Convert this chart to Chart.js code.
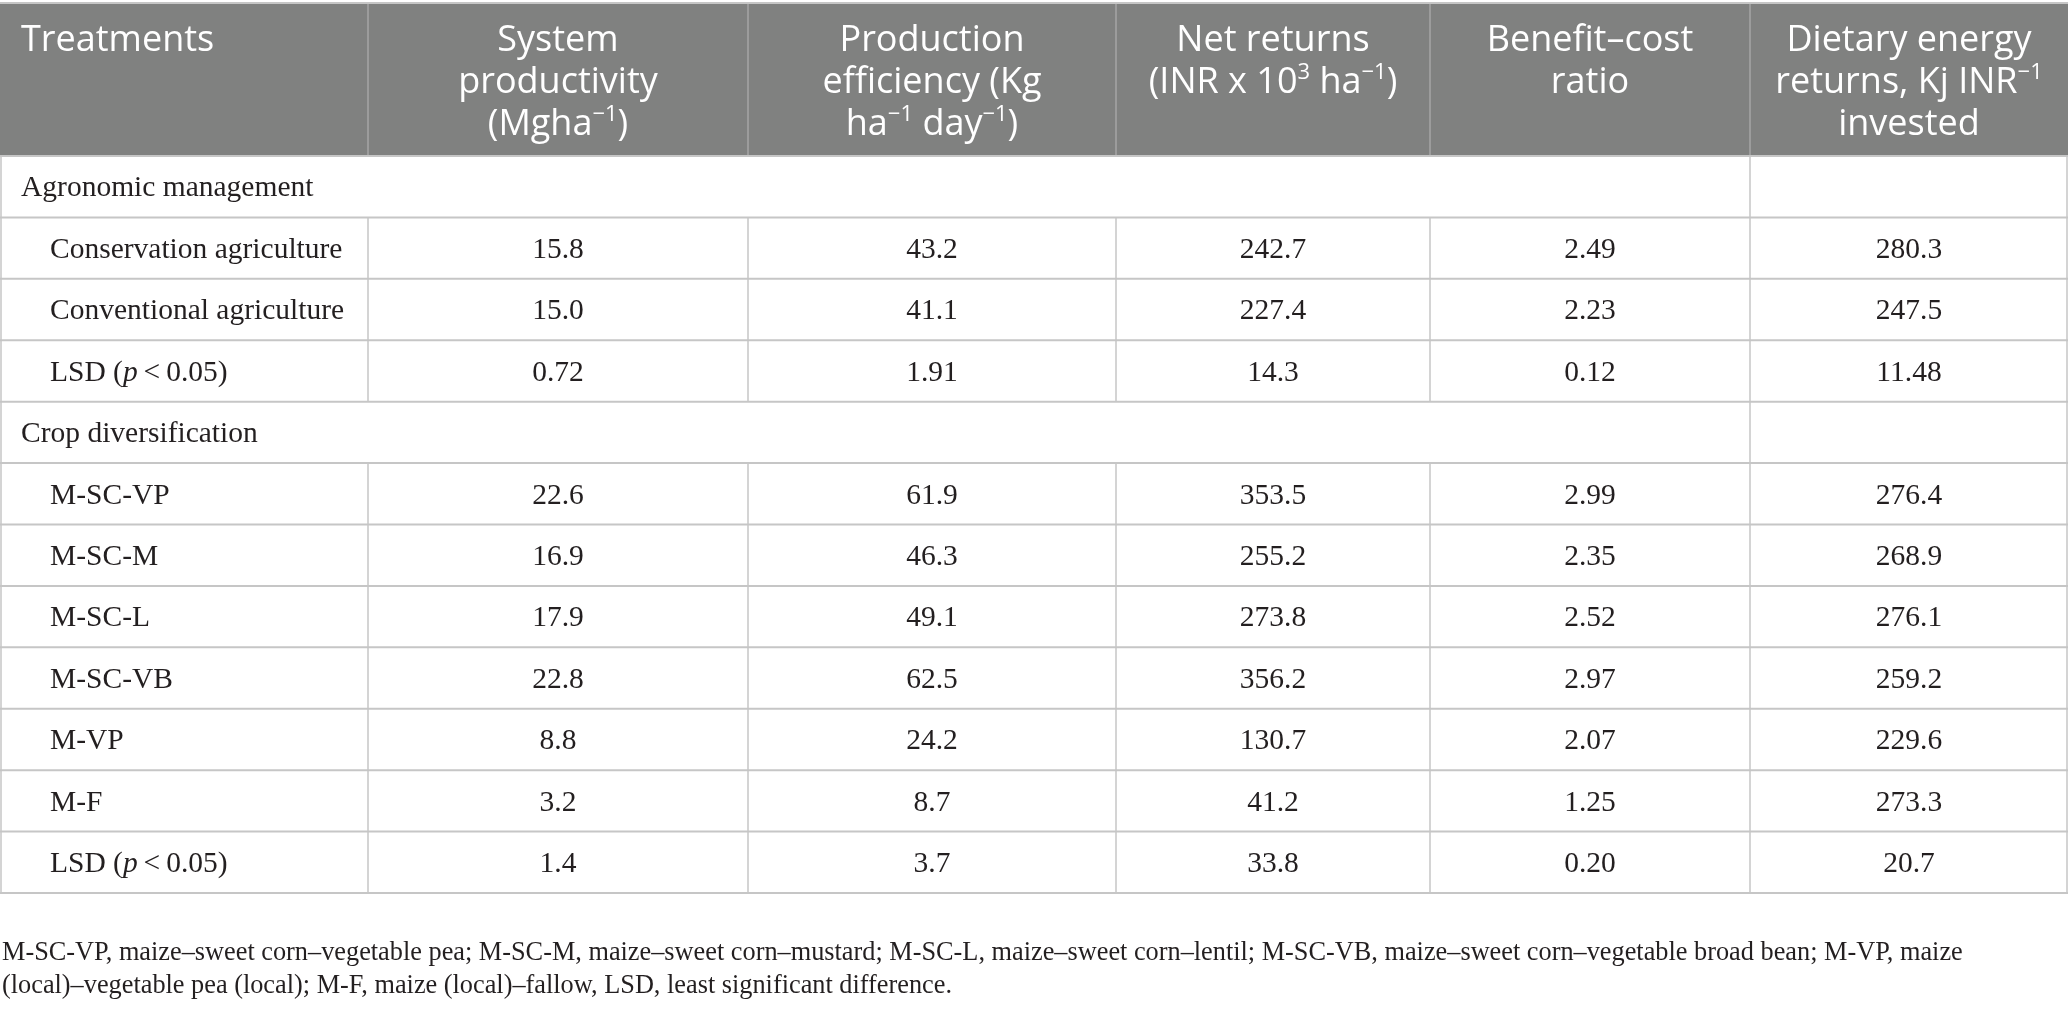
<!DOCTYPE html>
<html>
<head>
<meta charset="utf-8">
<script src="https://cdn.jsdelivr.net/npm/chart.js@4.4.0/dist/chart.umd.min.js"></script>
<style>
  html, body { margin: 0; padding: 0; background: #fff; }
  canvas { display: block; }
</style>
</head>
<body>
<canvas id="table" width="2068" height="1032"></canvas>
<script>
// column headings, one entry per line; ^{..} = superscript, *..* = italic
var headers = [
    ["Treatments"],
    ["System", "productivity", "(Mgha^{−1})"],
    ["Production", "efficiency (Kg", "ha^{−1} day^{−1})"],
    ["Net returns", "(INR x 10^{3} ha^{−1})"],
    ["Benefit–cost", "ratio"],
    ["Dietary energy", "returns, Kj INR^{−1}", "invested"]
];

var rowLabels = [
    "Agronomic management",
    "Conservation agriculture",
    "Conventional agriculture",
    "LSD (*p*\u2009<\u20090.05)",
    "Crop diversification",
    "M-SC-VP",
    "M-SC-M",
    "M-SC-L",
    "M-SC-VB",
    "M-VP",
    "M-F",
    "LSD (*p*\u2009<\u20090.05)"
];
// section rows span the first five columns
var sectionRows = [0, 4];

var systemProductivity = [null, "15.8", "15.0", "0.72", null, "22.6", "16.9", "17.9", "22.8", "8.8", "3.2", "1.4"];
var productionEfficiency = [null, "43.2", "41.1", "1.91", null, "61.9", "46.3", "49.1", "62.5", "24.2", "8.7", "3.7"];
var netReturns = [null, "242.7", "227.4", "14.3", null, "353.5", "255.2", "273.8", "356.2", "130.7", "41.2", "33.8"];
var benefitCost = [null, "2.49", "2.23", "0.12", null, "2.99", "2.35", "2.52", "2.97", "2.07", "1.25", "0.20"];
var dietaryEnergy = [null, "280.3", "247.5", "11.48", null, "276.4", "268.9", "276.1", "259.2", "229.6", "273.3", "20.7"];

var footnote = [
    "M-SC-VP, maize–sweet corn–vegetable pea; M-SC-M, maize–sweet corn–mustard; M-SC-L, maize–sweet corn–lentil; M-SC-VB, maize–sweet corn–vegetable broad bean; M-VP, maize",
    "(local)–vegetable pea (local); M-F, maize (local)–fallow, LSD, least significant difference."
];

var valueColumns = [systemProductivity, productionEfficiency, netReturns, benefitCost, dietaryEnergy];

// layout (not data)
var colWidths = [368, 380, 368, 314, 320, 318];
var headFont = '36px "Open Sans"';
var headSup = '22px "Open Sans"';
var bodyFont = '29.5px "Liberation Serif"';
var bodyItalic = 'italic 29.5px "Liberation Serif"';
var noteFont = '26.3px "Liberation Serif"';
var gridColor = '#c6c6c6';
var headBg = '#808180';
var textColor = '#231f20';

function colEdges() {
    var e = [0];
    colWidths.forEach(function(w) { e.push(e[e.length - 1] + w); });
    return e;
}

// split "a^{b}c*d*" into parts
function parseParts(str) {
    var out = [];
    str.split(/(\^\{[^}]*\}|\*[^*]*\*)/).forEach(function(s) {
        if (!s) return;
        if (s.indexOf('^{') === 0) out.push({ t: s.slice(2, -1), sup: true });
        else if (s.charAt(0) === '*') out.push({ t: s.slice(1, -1), it: true });
        else out.push({ t: s });
    });
    return out;
}

function drawRich(ctx, str, x, y, align, fonts) {
    var parts = parseParts(str);
    var w = 0;
    parts.forEach(function(p) {
        ctx.font = p.sup ? fonts.sup : (p.it ? fonts.it : fonts.main);
        p.w = ctx.measureText(p.t).width;
        w += p.w;
    });
    var cx = align === 'center' ? x - w / 2 : x;
    ctx.textAlign = 'left';
    ctx.textBaseline = 'middle';
    parts.forEach(function(p) {
        ctx.font = p.sup ? fonts.sup : (p.it ? fonts.it : fonts.main);
        ctx.fillText(p.t, cx, p.sup ? y - 10 : y);
        cx += p.w;
    });
}

var tablePlugin = {
    id: 'tablePlugin',
    afterDraw: function(chart) {
        var ctx = chart.ctx;
        var xs = chart.scales.x, ys = chart.scales.y;
        var area = chart.chartArea;
        var edges = colEdges().map(function(v) { return xs.getPixelForValue(v); });
        var left = edges[0], right = edges[edges.length - 1];
        var headTop = 3;
        var rowTop = function(i) { return ys.getPixelForValue(i - 0.5); };

        ctx.save();

        // header block
        ctx.fillStyle = headBg;
        ctx.fillRect(left, headTop, right - left, area.top - headTop);
        ctx.strokeStyle = '#a6a6a6';
        ctx.lineWidth = 1.5;
        for (var c = 1; c < edges.length - 1; c++) {
            ctx.beginPath();
            ctx.moveTo(edges[c], headTop);
            ctx.lineTo(edges[c], area.top);
            ctx.stroke();
        }
        ctx.fillStyle = '#ffffff';
        var hfonts = { main: headFont, sup: headSup, it: headFont };
        headers.forEach(function(lines, c) {
            lines.forEach(function(line, k) {
                var y = headTop + 38 + k * 42;
                if (c === 0) drawRich(ctx, line, left + 21, y, 'left', hfonts);
                else drawRich(ctx, line, (edges[c] + edges[c + 1]) / 2, y, 'center', hfonts);
            });
        });

        // grid
        ctx.strokeStyle = gridColor;
        ctx.lineWidth = 2;
        ctx.beginPath();
        ctx.moveTo(left, headTop);
        ctx.lineTo(right, headTop);
        ctx.stroke();
        for (var r = 0; r <= rowLabels.length; r++) {
            var y = rowTop(r);
            ctx.beginPath();
            ctx.moveTo(left, y);
            ctx.lineTo(right, y);
            ctx.stroke();
        }
        ctx.lineWidth = 1.5;
        rowLabels.forEach(function(label, r) {
            var y0 = rowTop(r), y1 = rowTop(r + 1);
            var isSection = sectionRows.indexOf(r) >= 0;
            edges.forEach(function(ex, c) {
                if (isSection && c > 0 && c < 5) return;
                var px = Math.round(ex) + (c === edges.length - 1 ? -1 : (c === 0 ? 1 : 0));
                ctx.beginPath();
                ctx.moveTo(px, y0);
                ctx.lineTo(px, y1);
                ctx.stroke();
            });
        });

        // body text
        ctx.fillStyle = textColor;
        var bfonts = { main: bodyFont, sup: bodyFont, it: bodyItalic };
        rowLabels.forEach(function(label, r) {
            var y = ys.getPixelForValue(r) + 2;
            var isSection = sectionRows.indexOf(r) >= 0;
            drawRich(ctx, label, left + (isSection ? 21 : 50), y, 'left', bfonts);
            valueColumns.forEach(function(col, c) {
                if (col[r] === null) return;
                drawRich(ctx, col[r], (edges[c + 1] + edges[c + 2]) / 2, y, 'center', bfonts);
            });
        });

        // footnote
        ctx.font = noteFont;
        ctx.textAlign = 'left';
        ctx.textBaseline = 'middle';
        footnote.forEach(function(line, k) {
            ctx.fillText(line, left + 2, area.bottom + 60 + k * 33);
        });

        ctx.restore();
    }
};

var chart = new Chart(document.getElementById('table'), {
    type: 'scatter',
    data: { datasets: [] },
    options: {
        responsive: false,
        animation: false,
        devicePixelRatio: 1,
        layout: { padding: { top: 156, bottom: 139, left: 0, right: 0 } },
        plugins: {
            legend: { display: false },
            tooltip: { enabled: false }
        },
        scales: {
            x: { type: 'linear', display: false, min: 0, max: colWidths.reduce(function(a, b) { return a + b; }, 0) },
            y: { type: 'category', labels: rowLabels, offset: true, display: false }
        }
    },
    plugins: [tablePlugin]
});
</script>
</body>
</html>
